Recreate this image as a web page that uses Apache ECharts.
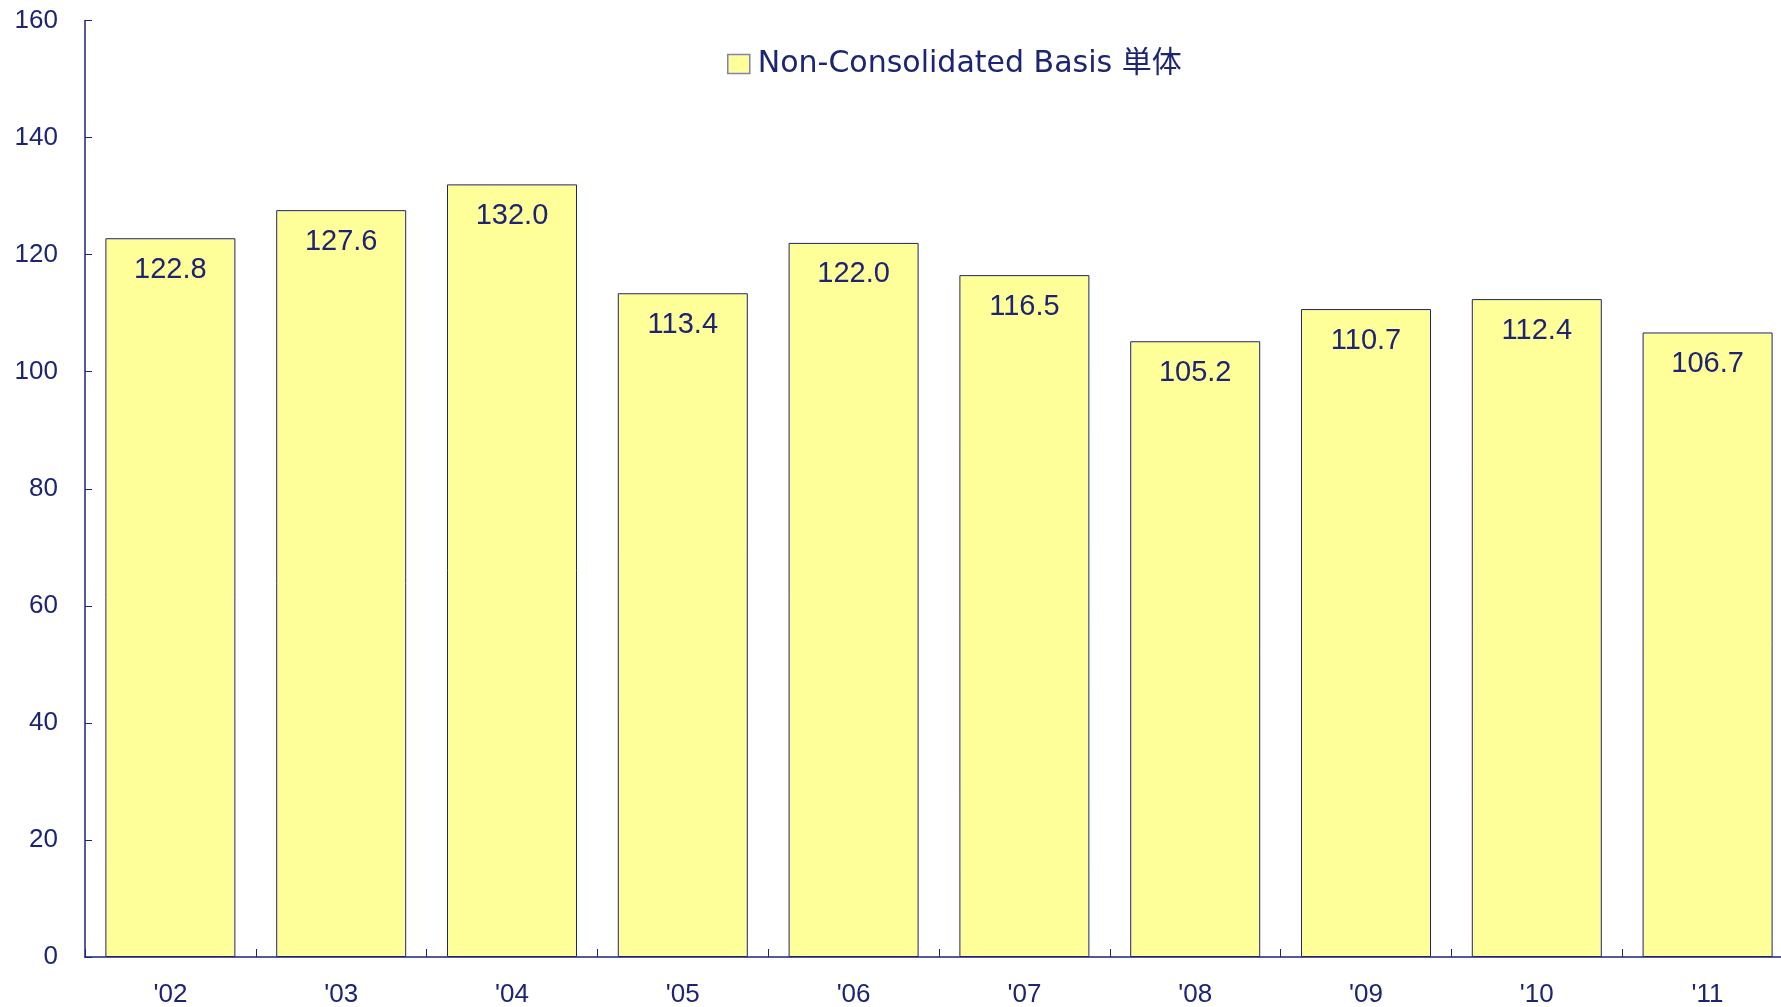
<!DOCTYPE html>
<html>
<head>
<meta charset="utf-8">
<script src="https://cdn.jsdelivr.net/npm/echarts@6/dist/echarts.min.js"></script>
<style>
  html, body { margin: 0; padding: 0; background: #fff; }
  #chart { width: 1781px; height: 1007px; }
</style>
</head>
<body>
<div id="chart"></div>
<script>
const years = ["'02", "'03", "'04", "'05", "'06", "'07", "'08", "'09", "'10", "'11"];
const values = [122.8, 127.6, 132.0, 113.4, 122.0, 116.5, 105.2, 110.7, 112.4, 106.7];
const seriesName = "Non-Consolidated Basis 単体";

const navy = "#1c2473";
const chartInst = echarts.init(document.getElementById("chart"));

const option = {
  animation: false,
  backgroundColor: "#ffffff",
  grid: {
    top: 20.5,
    left: 85,
    width: 1708,
    height: 936.5,
    containLabel: false,
    outerBoundsMode: "none",
  },
  legend: {
    left: 722,
    top: 44,
    itemWidth: 22,
    itemHeight: 19,
    itemGap: 10,
    textStyle: {
      color: navy,
      fontSize: 30,
      fontFamily: "DejaVu Sans, Noto Sans CJK JP",
      padding: [0, 0, 0, 3],
    },
    itemStyle: {
      color: "#ffff99",
      borderColor: "#7f82b8",
      borderWidth: 1.5,
    },
    data: [{ name: seriesName, icon: "rect" }],
  },
  xAxis: {
    type: "category",
    data: years,
    axisLine: { lineStyle: { color: navy, width: 1.5 } },
    axisTick: { show: true, inside: true, length: 8, lineStyle: { color: navy } },
    axisLabel: {
      color: navy,
      fontSize: 26,
      fontFamily: "Liberation Sans",
      margin: 25,
    },
  },
  yAxis: {
    type: "value",
    min: 0,
    max: 160,
    interval: 20,
    splitLine: { show: false },
    axisLine: { show: true, lineStyle: { color: navy, width: 1.5 } },
    axisTick: { show: true, inside: true, length: 7, lineStyle: { color: navy } },
    axisLabel: {
      color: navy,
      fontSize: 26,
      fontFamily: "Liberation Sans",
      margin: 27,
    },
  },
  series: [
    {
      name: seriesName,
      type: "bar",
      data: values,
      barWidth: 130,
      itemStyle: {
        color: "#ffff99",
        borderColor: navy,
        borderWidth: 1,
      },
      label: {
        show: true,
        position: "insideTop",
        distance: 17,
        color: navy,
        fontSize: 29,
        fontFamily: "Liberation Sans",
        formatter: (p) => p.value.toFixed(1),
      },
    },
  ],
};

chartInst.setOption(option, true);
</script>
</body>
</html>
